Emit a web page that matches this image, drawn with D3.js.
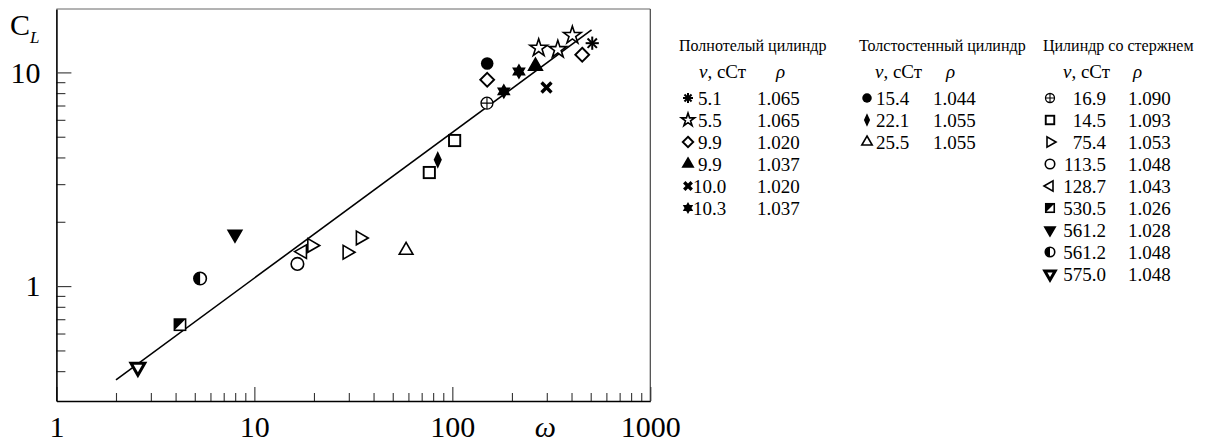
<!DOCTYPE html>
<html>
<head>
<meta charset="utf-8">
<script src="https://cdn.jsdelivr.net/npm/d3@7"></script>
<style>
	body { margin: 0; background: #fff; }
	text { font-family: "Liberation Serif", "DejaVu Serif", "Times New Roman", serif; fill: #000; }
</style>
</head>
<body>
<div id="chart"></div>
<script>
// legend groups and series (ν, cSt / ρ)
const groupTitles = ['Полнотелый цилиндр', 'Толстостенный цилиндр', 'Цилиндр со стержнем']
const seriesGroup = [0, 0, 0, 0, 0, 0, 1, 1, 1, 2, 2, 2, 2, 2, 2, 2, 2, 2]
const seriesNu = ['5.1', '5.5', '9.9', '9.9', '10.0', '10.3', '15.4', '22.1', '25.5',
	'16.9', '14.5', '75.4', '113.5', '128.7', '530.5', '561.2', '561.2', '575.0']
const seriesRho = ['1.065', '1.065', '1.020', '1.037', '1.020', '1.037', '1.044', '1.055', '1.055',
	'1.090', '1.093', '1.053', '1.048', '1.043', '1.026', '1.028', '1.048', '1.048']
const seriesShape = ['asterisk', 'star', 'diamond', 'triUp', 'cross', 'hexstar', 'dot', 'thinDiamond', 'triUpOpen',
	'circlePlus', 'square', 'triRight', 'circle', 'triLeft', 'halfSquare', 'triDown', 'halfCircle', 'triDownOpen']

// measured points: series index, ω, C_L
const pointSeries = [0, 1, 1, 1, 2, 2, 3, 4, 5, 5, 6, 7, 8, 9, 10, 10, 11, 11, 11, 12, 13, 14, 15, 16, 17]
const pointOmega = [509, 273, 341, 404, 150, 453, 263, 299, 217, 182, 150, 84.4, 58.4, 149.6, 102.7, 76.5,
	19.5, 29.4, 34.3, 16.5, 17.5, 4.21, 7.98, 5.32, 2.58]
const pointCL = [13.7, 13.0, 12.8, 14.9, 9.24, 12.1, 10.7, 8.5, 10.1, 8.15, 11.0, 3.9, 1.47, 7.18, 4.8, 3.4,
	1.55, 1.44, 1.68, 1.27, 1.45, 0.66, 1.75, 1.085, 0.417]

// fitted line end points
const fitOmega = [2, 505]
const fitCL = [0.364, 15.8]

// axes
const xMajor = [1, 10, 100, 1000]
const xMinor = [2, 3, 4, 5, 6, 7, 8, 9, 20, 30, 40, 50, 60, 70, 80, 90, 200, 300, 400, 500, 600, 700, 800, 900]
const yMajor = [1, 10]
const yMinor = [0.4, 0.5, 0.6, 0.7, 0.8, 0.9, 2, 3, 4, 5, 6, 7, 8, 9]

const width = 1221, height = 446
const plot = { left: 56.4, right: 650.3, top: 9, bottom: 401 }

const svg = d3.select('#chart').append('svg')
	.attr('width', width)
	.attr('height', height)

const x = d3.scaleLog().domain([1, 1000]).range([plot.left, plot.right])
const y = d3.scaleLog().domain([0.29, 19.8]).range([plot.bottom, plot.top])

function drawSymbol(g, shape, r) {
	const tri = (angle, rr) => [0, 1, 2].map(i => {
		const a = (angle + i * 120) * Math.PI / 180
		return [rr * Math.cos(a), rr * Math.sin(a)]
	})
	const poly = pts => 'M' + pts.map(p => p.join(',')).join('L') + 'Z'
	const sw = 1.6
	switch (shape) {
		case 'asterisk':
			[0, 45, 90, 135].forEach(a => {
				const c = Math.cos(a * Math.PI / 180) * r, s = Math.sin(a * Math.PI / 180) * r
				g.append('line').attr('x1', -c).attr('y1', -s).attr('x2', c).attr('y2', s)
					.attr('stroke', '#000').attr('stroke-width', 2)
			})
			break
		case 'star':
			g.append('path').attr('d', d3.symbol(d3.symbolStar, r * r * 2.2)())
				.attr('fill', '#fff').attr('stroke', '#000').attr('stroke-width', sw)
			break
		case 'diamond':
			g.append('path').attr('d', poly([[0, -r * 1.05], [r * 1.05, 0], [0, r * 1.05], [-r * 1.05, 0]]))
				.attr('fill', '#fff').attr('stroke', '#000').attr('stroke-width', sw + 0.3)
			break
		case 'thinDiamond':
			g.append('path').attr('d', poly([[0, -r * 1.35], [r * 0.62, 0], [0, r * 1.35], [-r * 0.62, 0]]))
				.attr('fill', '#000')
			break
		case 'triUp':
		case 'triUpOpen':
		case 'triDown':
		case 'triDownOpen':
		case 'triRight':
		case 'triLeft': {
			const ang = { triUp: -90, triUpOpen: -90, triDown: 90, triDownOpen: 90, triRight: 0, triLeft: 180 }[shape]
			const filled = shape === 'triUp' || shape === 'triDown'
			g.append('path').attr('d', poly(tri(ang, r * 1.2)))
				.attr('fill', filled ? '#000' : '#fff').attr('stroke', '#000')
				.attr('stroke-width', shape === 'triDownOpen' ? 3 : sw)
				.attr('stroke-linejoin', 'miter')
			break
		}
		case 'cross':
			[[-1, -1, 1, 1], [-1, 1, 1, -1]].forEach(d => {
				g.append('line').attr('x1', d[0] * r * 0.75).attr('y1', d[1] * r * 0.75)
					.attr('x2', d[2] * r * 0.75).attr('y2', d[3] * r * 0.75)
					.attr('stroke', '#000').attr('stroke-width', 3.4)
			})
			break
		case 'hexstar':
			g.append('path').attr('d', poly(tri(-90, r * 1.2)) + poly(tri(90, r * 1.2)))
				.attr('fill', '#000')
			break
		case 'dot':
			g.append('circle').attr('r', r * 0.95).attr('fill', '#000')
			break
		case 'circle':
			g.append('circle').attr('r', r * 0.95).attr('fill', '#fff').attr('stroke', '#000').attr('stroke-width', sw)
			break
		case 'circlePlus':
			g.append('circle').attr('r', r * 0.9).attr('fill', '#fff').attr('stroke', '#000').attr('stroke-width', 1.3)
			g.append('path').attr('d', `M${-r * 0.9},0H${r * 0.9}M0,${-r * 0.9}V${r * 0.9}`)
				.attr('stroke', '#000').attr('stroke-width', 1.1)
			break
		case 'square':
			g.append('rect').attr('x', -r * 0.85).attr('y', -r * 0.85).attr('width', r * 1.7).attr('height', r * 1.7)
				.attr('fill', '#fff').attr('stroke', '#000').attr('stroke-width', sw + 0.3)
			break
		case 'halfSquare': {
			const h = r * 0.85
			g.append('rect').attr('x', -h).attr('y', -h).attr('width', 2 * h).attr('height', 2 * h)
				.attr('fill', '#fff').attr('stroke', '#000').attr('stroke-width', sw)
			g.append('path').attr('d', poly([[-h, -h], [h, -h], [-h, h]])).attr('fill', '#000')
			break
		}
		case 'halfCircle': {
			const rr = r * 0.95
			g.append('circle').attr('r', rr).attr('fill', '#fff').attr('stroke', '#000').attr('stroke-width', sw)
			g.append('path').attr('d', `M0,${-rr}A${rr},${rr} 0 0 0 0,${rr}Z`).attr('fill', '#000')
			break
		}
	}
}

// frame
const frame = svg.append('g').attr('class', 'frame')
frame.append('line').attr('x1', plot.left).attr('x2', plot.right).attr('y1', plot.top).attr('y2', plot.top)
	.attr('stroke', '#666').attr('stroke-width', 1)
frame.append('line').attr('x1', plot.right).attr('x2', plot.right).attr('y1', plot.top).attr('y2', plot.bottom)
	.attr('stroke', '#444').attr('stroke-width', 1.2)

// x axis
const xAxisG = svg.append('g').attr('transform', `translate(0,${plot.bottom})`)
xAxisG.append('g')
	.call(d3.axisBottom(x).tickValues(xMinor).tickSize(-8).tickFormat(''))
	.call(g => g.select('.domain').remove())
xAxisG.append('g')
	.call(d3.axisBottom(x).tickValues(xMajor).tickSize(-14).tickSizeOuter(0).tickPadding(15).tickFormat(d3.format('d')))
	.call(g => g.select('.domain').attr('stroke-width', 1.6))
xAxisG.selectAll('.tick line').attr('stroke', '#333').attr('stroke-width', 1.1)
xAxisG.selectAll('text').attr('font-size', 30).attr('font-family', null)

svg.append('text')
	.attr('x', x(295)).attr('y', 437)
	.attr('text-anchor', 'middle')
	.attr('font-size', 30).attr('font-style', 'italic')
	.text('ω')

// y axis
const yAxisG = svg.append('g').attr('transform', `translate(${plot.left},0)`)
yAxisG.append('g')
	.call(d3.axisLeft(y).tickValues(yMinor).tickSize(-9).tickFormat(''))
	.call(g => g.select('.domain').remove())
yAxisG.append('g')
	.call(d3.axisLeft(y).tickValues(yMajor).tickSize(-15).tickSizeOuter(0).tickPadding(16).tickFormat(d3.format('d')))
	.call(g => g.select('.domain').attr('stroke-width', 1.6))
yAxisG.selectAll('.tick line').attr('stroke', '#333').attr('stroke-width', 1.1)
yAxisG.selectAll('text').attr('font-size', 30).attr('font-family', null)

const yTitle = svg.append('text').attr('x', 10).attr('y', 35).attr('font-size', 30)
yTitle.append('tspan').text('C')
yTitle.append('tspan').attr('font-size', 17).attr('font-style', 'italic').attr('dy', 8).text('L')

// fitted line
svg.append('path')
	.datum(fitOmega.map((w, i) => [w, fitCL[i]]))
	.attr('d', d3.line().x(d => x(d[0])).y(d => y(d[1])))
	.attr('fill', 'none').attr('stroke', '#000').attr('stroke-width', 1.6)

// points
const points = pointOmega.map((w, i) => ({ w, c: pointCL[i], s: pointSeries[i] }))
svg.append('g').attr('class', 'points')
	.selectAll('g').data(points).join('g')
	.attr('transform', d => `translate(${x(d.w)},${y(d.c)})`)
	.each(function (d) { drawSymbol(d3.select(this), seriesShape[d.s], 6.6) })

// legend
const legendCols = [
	{ title: 679, sym: 688, val: 693, valAnchor: 'start', rho: 757, nu: 699, rhoHead: 776 },
	{ title: 859, sym: 867, val: 876, valAnchor: 'start', rho: 933, nu: 875, rhoHead: 946 },
	{ title: 1043, sym: 1050, val: 1106, valAnchor: 'end', rho: 1128, nu: 1063, rhoHead: 1133 },
]
const rowY0 = 98, rowStep = 22
const legend = svg.append('g').attr('class', 'legend')

groupTitles.forEach((t, gi) => {
	const col = legendCols[gi]
	legend.append('text').attr('x', col.title).attr('y', 51).attr('font-size', 16).text(t)
	const head = legend.append('text').attr('x', col.nu).attr('y', 78).attr('font-size', 19)
	head.append('tspan').attr('font-style', 'italic').text('ν')
	head.append('tspan').text(', сСт')
	legend.append('text').attr('x', col.rhoHead).attr('y', 78).attr('font-size', 19)
		.attr('font-style', 'italic').text('ρ')

	seriesNu.map((v, i) => i).filter(i => seriesGroup[i] === gi).forEach((si, row) => {
		const cy = rowY0 + row * rowStep
		const g = legend.append('g').attr('transform', `translate(${col.sym},${cy})`)
		drawSymbol(g, seriesShape[si], 5)
		const shift = col.valAnchor === 'start' && seriesNu[si].length < 4 ? 5 : 0
		legend.append('text').attr('x', col.val + shift).attr('y', cy + 6.5)
			.attr('font-size', 19).attr('text-anchor', col.valAnchor).text(seriesNu[si])
		legend.append('text').attr('x', col.rho).attr('y', cy + 6.5)
			.attr('font-size', 19).text(seriesRho[si])
	})
})
</script>
</body>
</html>
